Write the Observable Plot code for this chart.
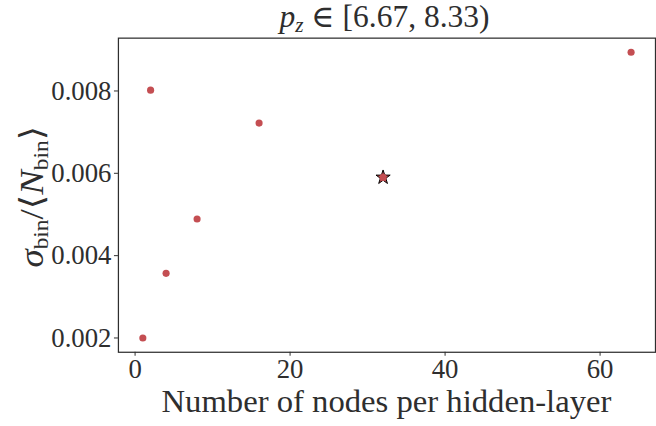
<!DOCTYPE html>
<html>
<head>
<meta charset="utf-8">
<script src="https://cdn.jsdelivr.net/npm/d3@7"></script>
<script src="https://cdn.jsdelivr.net/npm/@observablehq/plot@0.6"></script>
<style>
  html, body { margin: 0; padding: 0; background: white; }
  #wrap { width: 656px; height: 426px; overflow: hidden; }
</style>
</head>
<body>
<div id="wrap"></div>
<script>
// Data
const nodes = [1, 2, 4, 8, 16, 32, 64];
const ratio = [0.00200, 0.00802, 0.00357, 0.00489, 0.00722, 0.00590, 0.00894];
const bestNodes = [32];
const bestRatio = [0.00590];
const xTicks = [0, 20, 40, 60];
const yTicks = [0.002, 0.004, 0.006, 0.008];

const points = nodes.map((n, i) => ({n, r: ratio[i]}));
const best = bestNodes.map((n, i) => ({n, r: bestRatio[i]}));

const red = "#c44e52";
const ink = "#2e2e2e";
const font = "'Liberation Serif', 'DejaVu Serif', serif";

const chart = Plot.plot({
  width: 662,
  height: 426,
  marginLeft: 119,
  marginRight: 1,
  marginTop: 38,
  marginBottom: 71,
  style: {fontFamily: font, fontSize: "27px", color: ink, background: "white", overflow: "visible"},
  x: {domain: [-2.15, 67.15], label: null},
  y: {domain: [0.001653, 0.009283], label: null},
  marks: [
    Plot.axisX({ticks: xTicks, tickSize: 4, tickPadding: 3, label: null, stroke: ink, fill: ink}),
    Plot.axisY({ticks: yTicks, tickSize: 4, tickPadding: 3, tickFormat: d3.format(".3f"), label: null, stroke: ink, fill: ink}),
    Plot.frame({stroke: ink, strokeWidth: 1.25}),
    Plot.dot(points, {x: "n", y: "r", r: 3.6, fill: red}),
    Plot.dot(best, {x: "n", y: "r", symbol: "star", r: 4.5, fill: red, stroke: "black", strokeWidth: 1}),
    Plot.dot(best, {x: "n", y: "r", r: 3.6, fill: red})
  ]
});

const svg = d3.select(chart);
const xs = chart.scale("x").range;
const ys = chart.scale("y").range;
const cx = (xs[0] + xs[1]) / 2;
const cy = (ys[0] + ys[1]) / 2;

// Title: p_z ∈ [6.67, 8.33)
const title = svg.append("text")
  .attr("x", cx - 2).attr("y", 27)
  .attr("text-anchor", "middle")
  .attr("font-family", font).attr("font-size", 31).attr("fill", ink)
  .attr("textLength", 212).attr("lengthAdjust", "spacingAndGlyphs");
title.append("tspan").attr("font-style", "italic").text("p");
title.append("tspan").attr("font-style", "italic").attr("font-size", 21).attr("dy", 5).text("z");
title.append("tspan").attr("dy", -5).text(" ∈ [6.67, 8.33)");

// X label
svg.append("text")
  .attr("x", cx).attr("y", 416)
  .attr("text-anchor", "middle")
  .attr("font-family", font).attr("font-size", 31).attr("fill", ink)
  .attr("textLength", 454).attr("lengthAdjust", "spacingAndGlyphs")
  .text("Number of nodes per hidden-layer");

// Y label: σ_bin / ⟨N_bin⟩
const yl = svg.append("text")
  .attr("transform", `translate(43,${cy + 2}) rotate(-90)`)
  .attr("text-anchor", "middle")
  .attr("font-family", font).attr("font-size", 33).attr("fill", ink)
  .attr("textLength", 143).attr("lengthAdjust", "spacingAndGlyphs");
yl.append("tspan").attr("font-style", "italic").text("σ");
yl.append("tspan").attr("font-size", 21).attr("dy", 5).text("bin");
yl.append("tspan").attr("dy", -5).text("/⟨");
yl.append("tspan").attr("font-style", "italic").text("N");
yl.append("tspan").attr("font-size", 21).attr("dy", 5).text("bin");
yl.append("tspan").attr("dy", -5).text("⟩");

document.getElementById("wrap").appendChild(chart);
</script>
</body>
</html>
